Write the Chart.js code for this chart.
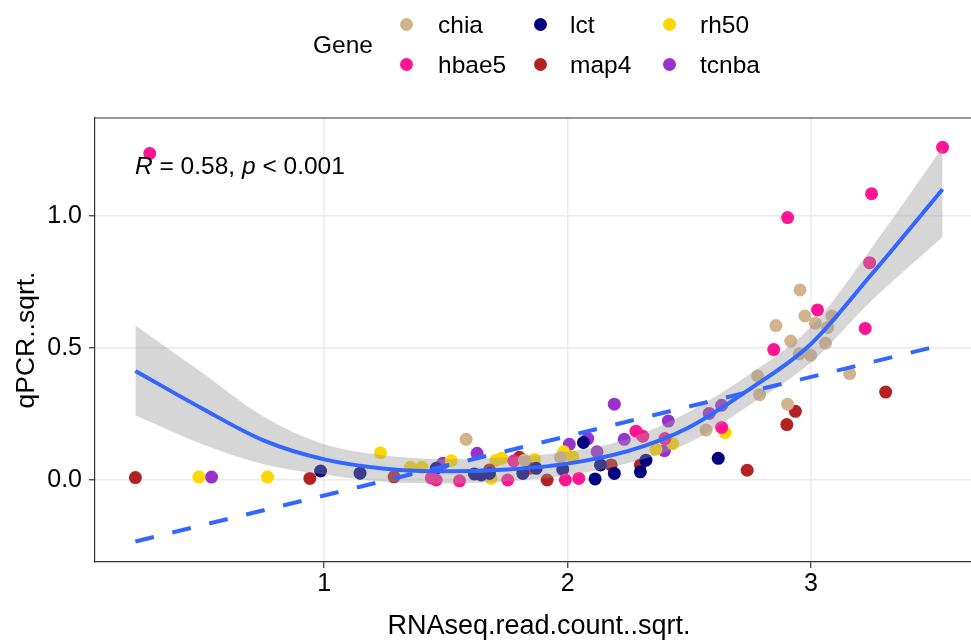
<!DOCTYPE html>
<html lang="en">
<head>
<meta charset="UTF-8">
<title>qPCR vs RNAseq</title>
<script src="https://cdn.jsdelivr.net/npm/chart.js"></script>
<style>
    html, body { margin: 0; padding: 0; width: 971px; height: 641px; overflow: hidden; background: #fff; }
    body { font-family: "Liberation Sans", Arial, sans-serif; }
    #wrap { position: absolute; left: 0; top: 0; width: 990px; height: 641px; }
    .lbl { position: absolute; font-size: 24.5px; line-height: 1; color: #000; white-space: nowrap; }
    .dot { position: absolute; width: 13px; height: 13px; border-radius: 50%; }
</style>
</head>
<body>
<div id="wrap"><canvas id="chart" width="990" height="641"></canvas></div>
<div id="legend"></div>
<div class="lbl" style="left:135px; top:154px;"><i>R</i> = 0.58, <i>p</i> &lt; 0.001</div>

<script>
    // gene groups and their colours
    const genes = ['chia', 'hbae5', 'lct', 'map4', 'rh50', 'tcnba'];
    const geneColors = ['#D2B48C', '#FF1493', '#000080', '#B22222', '#FFD700', '#9932CC'];

    // points [RNAseq.read.count..sqrt., qPCR..sqrt.]
    const chia = [[1.583, 0.154], [1.823, 0.075], [1.971, 0.086], [2.569, 0.189], [2.955, 0.720],
        [2.975, 0.621], [3.086, 0.621], [3.018, 0.594], [3.069, 0.578], [2.856, 0.585], [2.917, 0.526],
        [3.060, 0.518], [2.952, 0.478], [2.999, 0.472], [3.159, 0.403], [2.781, 0.394], [2.789, 0.323],
        [2.904, 0.287]];
    const hbae5 = [[0.283, 1.237], [1.440, 0.008], [1.460, 0.000], [1.556, -0.003], [1.754, 0.000],
        [1.779, 0.072], [1.991, 0.000], [2.046, 0.006], [2.281, 0.185], [2.309, 0.166], [2.400, 0.157],
        [2.633, 0.199], [2.847, 0.494], [2.904, 0.994], [3.027, 0.644], [3.223, 0.574], [3.241, 0.823],
        [3.249, 1.084], [3.541, 1.260]];
    const lct = [[0.985, 0.034], [1.147, 0.026], [1.460, 0.044], [1.617, 0.023], [1.645, 0.019],
        [1.679, 0.025], [1.816, 0.025], [1.871, 0.044], [1.980, 0.040], [2.065, 0.142], [2.113, 0.004],
        [2.135, 0.057], [2.192, 0.025], [2.299, 0.031], [2.322, 0.075], [2.619, 0.082]];
    const map4 = [[0.224, 0.009], [0.941, 0.006], [1.287, 0.012], [1.679, 0.038], [1.802, 0.086],
        [1.843, 0.044], [1.916, 0.000], [2.179, 0.057], [2.299, 0.057], [2.738, 0.037], [2.901, 0.210],
        [2.936, 0.260], [3.307, 0.333]];
    const rh50 = [[0.485, 0.011], [0.767, 0.011], [1.231, 0.103], [1.354, 0.048], [1.401, 0.048],
        [1.522, 0.073], [1.686, 0.006], [1.706, 0.075], [1.730, 0.082], [1.864, 0.078], [1.984, 0.107],
        [2.021, 0.088], [2.363, 0.116], [2.432, 0.138], [2.648, 0.179]];
    const tcnba = [[0.537, 0.011], [1.487, 0.063], [1.628, 0.101], [2.007, 0.135], [2.083, 0.157],
        [2.121, 0.107], [2.192, 0.287], [2.233, 0.154], [2.398, 0.111], [2.414, 0.223], [2.582, 0.252],
        [2.633, 0.283]];
    const genePoints = [chia, hbae5, lct, map4, rh50, tcnba];

    // smooth curve with its confidence band
    const fitX = [0.224, 0.5, 0.75, 1.0, 1.25, 1.5, 1.75, 2.0, 2.25, 2.5, 2.75, 3.0, 3.25, 3.541];
    const fitY = [0.413, 0.27, 0.15, 0.078, 0.043, 0.033, 0.040, 0.062, 0.11, 0.20, 0.345, 0.515, 0.78, 1.101];
    const bandUpper = [0.585, 0.405, 0.24, 0.135, 0.093, 0.079, 0.086, 0.107, 0.156, 0.258, 0.402, 0.58, 0.88, 1.26];
    const bandLower = [0.245, 0.135, 0.06, 0.021, -0.007, -0.013, -0.005, 0.017, 0.064, 0.142, 0.285, 0.445, 0.68, 0.92];

    // straight regression line (dashed)
    const linX = [0.224, 3.541];
    const linY = [-0.233, 0.512];

    // axis ticks
    const xTicks = [1, 2, 3];
    const yTicks = [0, 0.5, 1.0];

    const FONT = '"Liberation Sans", Arial, sans-serif';
    const toXY = (xs, ys) => xs.map((x, i) => ({ x: x, y: ys[i] }));

    // legend (two rows, filled column by column)
    const legend = document.getElementById('legend');
    const addEl = (cls, style, text) => {
        const d = document.createElement('div');
        d.className = cls;
        d.setAttribute('style', style);
        if (text) d.textContent = text;
        legend.appendChild(d);
    };
    addEl('lbl', 'left:313px; top:32.5px;', 'Gene');
    const colDot = [406, 540.5, 669.5];
    const colText = [438, 570, 700];
    const rowDot = [24, 64];
    const rowText = [12.6, 52.6];
    genes.forEach((g, i) => {
        const c = Math.floor(i / 2), r = i % 2;
        addEl('dot', `left:${colDot[c] - 6.5}px; top:${rowDot[r] - 6.5}px; background:${geneColors[i]};`);
        addEl('lbl', `left:${colText[c]}px; top:${rowText[r]}px;`, g);
    });

    const datasets = genes.map((g, i) => ({
        type: 'scatter',
        label: g,
        data: genePoints[i].map(p => ({ x: p[0], y: p[1] })),
        backgroundColor: geneColors[i],
        borderWidth: 0,
        pointRadius: 6.5,
        order: 3
    }));
    datasets.push({
        type: 'line', label: 'band upper', data: toXY(fitX, bandUpper),
        borderColor: 'rgba(0,0,0,0)', borderWidth: 0, pointRadius: 0,
        fill: '+1', backgroundColor: 'rgba(153,153,153,0.4)',
        cubicInterpolationMode: 'monotone', order: 2
    });
    datasets.push({
        type: 'line', label: 'band lower', data: toXY(fitX, bandLower),
        borderColor: 'rgba(0,0,0,0)', borderWidth: 0, pointRadius: 0, fill: false,
        cubicInterpolationMode: 'monotone', order: 2
    });
    datasets.push({
        type: 'line', label: 'fit', data: toXY(fitX, fitY),
        borderColor: '#3366FF', borderWidth: 4, pointRadius: 0, fill: false,
        cubicInterpolationMode: 'monotone', order: 1
    });
    datasets.push({
        type: 'line', label: 'linear', data: toXY(linX, linY),
        borderColor: '#3366FF', borderWidth: 4, borderDash: [19, 19], pointRadius: 0, fill: false,
        order: 1
    });

    // panel top border (the right one falls outside the picture)
    const topBorder = {
        id: 'topBorder',
        afterDraw(chart) {
            const { ctx, chartArea } = chart;
            ctx.save();
            ctx.strokeStyle = '#333333';
            ctx.lineWidth = 1.2;
            ctx.beginPath();
            ctx.moveTo(chartArea.left, chartArea.top);
            ctx.lineTo(chartArea.right + 5, chartArea.top);
            ctx.stroke();
            ctx.restore();
        }
    };

    new Chart(document.getElementById('chart'), {
        type: 'scatter',
        data: { datasets: datasets },
        plugins: [topBorder],
        options: {
            responsive: false,
            animation: false,
            layout: { padding: { top: 118, right: 7, bottom: 0, left: 0 } },
            plugins: { legend: { display: false }, tooltip: { enabled: false } },
            scales: {
                x: {
                    type: 'linear', min: 0.058, max: 3.707,
                    afterBuildTicks: s => { s.ticks = xTicks.map(v => ({ value: v })); },
                    afterFit: s => { s.height = 79; },
                    grid: { color: '#EBEBEB', lineWidth: 1.5, tickColor: '#333333', tickLength: 6, tickWidth: 1.2 },
                    border: { color: '#333333', width: 1.2 },
                    ticks: { color: '#000', padding: 1, maxRotation: 0, font: { family: FONT, size: 25, lineHeight: 1.2 },
                        callback: v => String(v) },
                    title: { display: true, text: 'RNAseq.read.count..sqrt.', color: '#000',
                        font: { family: FONT, size: 27, lineHeight: 1 }, padding: { top: 0, bottom: 1 } }
                },
                y: {
                    type: 'linear', min: -0.3106, max: 1.371,
                    afterBuildTicks: s => { s.ticks = yTicks.map(v => ({ value: v })); },
                    afterFit: s => { s.width = 95; },
                    grid: { color: '#EBEBEB', lineWidth: 1.5, tickColor: '#333333', tickLength: 6, tickWidth: 1.2 },
                    border: { color: '#333333', width: 1.2 },
                    ticks: { color: '#000', padding: 7, font: { family: FONT, size: 25, lineHeight: 1.2 },
                        callback: v => v.toFixed(1) },
                    title: { display: true, text: 'qPCR..sqrt.', color: '#000',
                        font: { family: FONT, size: 26.5, lineHeight: 1 }, padding: { top: 13, bottom: 0 } }
                }
            }
        }
    });
</script>
</body>
</html>
